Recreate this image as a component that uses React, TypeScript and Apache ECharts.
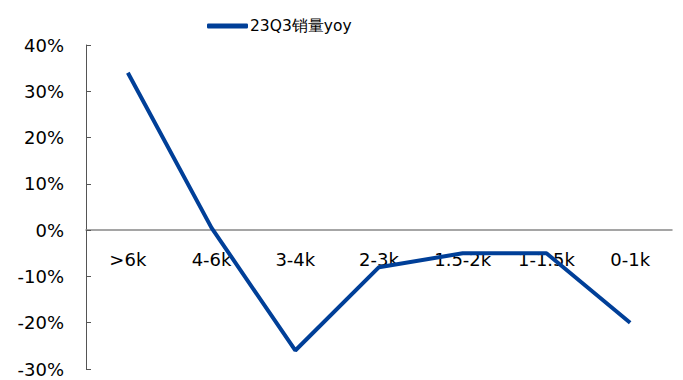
import React, { useEffect, useRef } from "react";
import * as echarts from "echarts";

const categories = [">6k", "4-6k", "3-4k", "2-3k", "1.5-2k", "1-1.5k", "0-1k"];
const yoyValues = [34, 0.5, -26, -8, -5, -5, -20];
const seriesName = "23Q3销量yoy";
const yMin = -30;
const yMax = 40;

export default function App() {
  const ref = useRef<HTMLDivElement>(null);
  useEffect(() => {
    if (!ref.current) return;
    const chart = echarts.init(ref.current, undefined, { renderer: "svg" });
    const font = "'DejaVu Sans', Verdana, sans-serif";
    const gridTop = 45;
    const gridBottom = 11;
    const gridHeight = 380 - gridTop - gridBottom;
    const zeroOffset = -(gridHeight * (0 - yMin)) / (yMax - yMin);
    chart.setOption({
      animation: false,
      textStyle: { fontFamily: font },
      legend: {
        top: 18,
        left: 207,
        padding: 0,
        itemWidth: 41,
        itemHeight: 5,
        itemGap: 4,
        textStyle: { fontSize: 15.5, color: "#000", fontFamily: font, padding: [0, 0, 0, -3] },
        data: [{ name: seriesName, icon: "roundRect", itemStyle: { color: "#003f98" } }],
      },
      grid: {
        left: 86,
        right: 11,
        top: gridTop,
        bottom: gridBottom,
        containLabel: false,
        outerBoundsMode: "none",
      },
      xAxis: {
        type: "category",
        data: categories,
        boundaryGap: true,
        position: "bottom",
        offset: zeroOffset,
        axisLine: { onZero: false, lineStyle: { color: "#888", width: 1.5 } },
        axisTick: { inside: true, length: 6, lineStyle: { color: "#888" } },
        axisLabel: { margin: 20, fontSize: 18, color: "#000", fontFamily: font },
        splitLine: { show: false },
      },
      yAxis: {
        type: "value",
        min: yMin,
        max: yMax,
        interval: 10,
        axisLine: { show: true, lineStyle: { color: "#555" } },
        axisTick: { show: true, inside: true, length: 5, lineStyle: { color: "#555" } },
        axisLabel: {
          margin: 22,
          fontSize: 18,
          color: "#000",
          fontFamily: font,
          formatter: (v: number) => `${v}%`,
        },
        splitLine: { show: false },
      },
      series: [
        {
          name: seriesName,
          type: "line",
          data: yoyValues,
          symbol: "none",
          lineStyle: { color: "#003f98", width: 4 },
          itemStyle: { color: "#003f98" },
        },
      ],
    });
    return () => chart.dispose();
  }, []);
  return <div ref={ref} style={{ width: 683, height: 380, position: "absolute", left: 0, top: 0 }} />;
}
